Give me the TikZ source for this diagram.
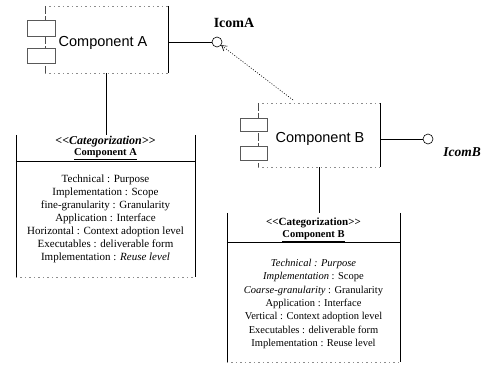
\documentclass[tikz,border=0pt]{standalone}
\usepackage{fontspec}
\setmainfont{Liberation Serif}
\newfontfamily\compfont{Liberation Sans}
\usetikzlibrary{arrows.meta}
\begin{document}
\begin{tikzpicture}[x=1pt,y=-1pt,
  ink/.style={draw=black,line width=0.6pt},
  faint/.style={draw=black!45,line width=0.5pt,dash pattern=on 1.5pt off 3pt},
  leftedge/.style={draw=black!70,line width=0.5pt,dash pattern=on 8pt off 2pt},
  compbox/.style={draw=none,inner sep=0pt},
  tab/.style={draw=black!65,line width=0.5pt,fill=white,inner sep=0pt,minimum width=#1,minimum height=14pt},
  compname/.style={font=\compfont\fontsize{14.5}{16}\selectfont,inner sep=0pt},
  lolli/.style={circle,draw=black,line width=0.6pt,fill=white,inner sep=0pt,minimum size=10pt},
  catbox/.style={draw=none,inner sep=0pt},
  cathead/.style={align=center,font=\fontsize{10.5}{11.5}\selectfont\bfseries,inner sep=0pt},
  catbody/.style={align=center,font=\fontsize{#1}{12.9}\selectfont,inner sep=0pt},
  depend/.style={draw=black,line width=0.6pt,dash pattern=on 1pt off 1.6pt,-{Straight Barb[length=5pt,width=6pt]}}
]
\useasboundingbox (0,0) rectangle (492,364);

% ---------- Component A ----------
\node[compbox,minimum width=123pt,minimum height=67pt] (cA) at (106.5,39.5) {};
\draw[ink] (cA.north east) -- (cA.south east);
\draw[faint] (cA.north west) -- (cA.north east);
\draw[faint] (cA.south west) -- (cA.south east);
\draw[leftedge] (cA.north west) -- (cA.south west);
\node[tab=28pt,minimum height=16pt] (tA1) at (41,28) {};
\node[tab=28pt,minimum height=15pt] (tA2) at (41,55.5) {};
\node[compname] (nA) at (103,43) {Component A};

\node[lolli] (iA) at (217,42) {};
\draw[ink] (cA.east |- iA) -- (iA.west);
\node[font=\bfseries\fontsize{14}{15}\selectfont,inner sep=0pt] (lA) at (234,23) {IcomA};

% ---------- Component B ----------
\node[compbox,minimum width=122pt,minimum height=64pt] (cB) at (319,135) {};
\draw[ink] (cB.north east) -- (cB.south east);
\draw[faint] (cB.north west) -- (cB.north east);
\draw[faint] (cB.south west) -- (cB.south east);
\draw[leftedge] (cB.north west) -- (cB.south west);
\node[tab=27pt,minimum height=13pt] (tB1) at (253.5,124.5) {};
\node[tab=27pt,minimum height=14pt] (tB2) at (253.5,153) {};
\node[compname] (nB) at (320,139) {Component B};

\node[lolli] (iB) at (428,139) {};
\draw[ink] (cB.east |- iB) -- (iB.west);
\node[font=\bfseries\itshape\fontsize{13.5}{15}\selectfont,inner sep=0pt] (lB) at (462,152) {IcomB};

% dependency B -> IcomA
\coordinate (dsrc) at (293,100);
\draw[depend] (dsrc) -- (iA);

% ---------- Categorization A ----------
\node[catbox,minimum width=179pt,minimum height=142pt] (kA) at (105.5,206) {};
\draw[ink] (kA.north west) -- (kA.south west);
\draw[ink] (kA.north east) -- (kA.south east);
\draw[faint] (kA.south west) -- (kA.south east);
\draw[ink] (kA.west |- 0,161) coordinate (dAl) -- (kA.east |- dAl);
\node[cathead] (hA) at (105.5,148) {\textit{\fontsize{12}{12}\selectfont<\kern0pt<Categorization>\kern0pt>}\\[0pt]\underline{Component A}};
\node[catbody=11] (bA) at (105.5,219) {Technical : Purpose\\
Implementation : Scope\\
fine-granularity : Granularity\\
Application : Interface\\
Horizontal : Context adoption level\\
Executables : deliverable form\\
Implementation : \textit{Reuse level}};
\draw[ink] (cA.south) -- (cA.south |- kA.north);

% ---------- Categorization B ----------
\node[catbox,minimum width=173pt,minimum height=149pt] (kB) at (313.5,287.5) {};
\draw[ink] (kB.north west) -- (kB.south west);
\draw[ink] (kB.north east) -- (kB.south east);
\draw[faint] (kB.south west) -- (kB.south east);
\draw[ink] (kB.west |- 0,242) coordinate (dBl) -- (kB.east |- dBl);
\node[cathead] (hB) at (313.5,230) {\fontsize{11}{11}\selectfont<\kern0pt<Categorization>\kern0pt>\\[0pt]\underline{Component B}};
\node[catbody=10.5,font=\fontsize{10.5}{13.3}\selectfont] (bB) at (313.5,304) {\textit{Technical : Purpose}\\
\textit{Implementation} : Scope\\
\textit{Coarse-granularity} : Granularity\\
Application : Interface\\
Vertical : Context adoption level\\
Executables : deliverable form\\
Implementation : Reuse level};
\draw[ink] (cB.south) -- (cB.south |- kB.north);
\end{tikzpicture}
\end{document}
